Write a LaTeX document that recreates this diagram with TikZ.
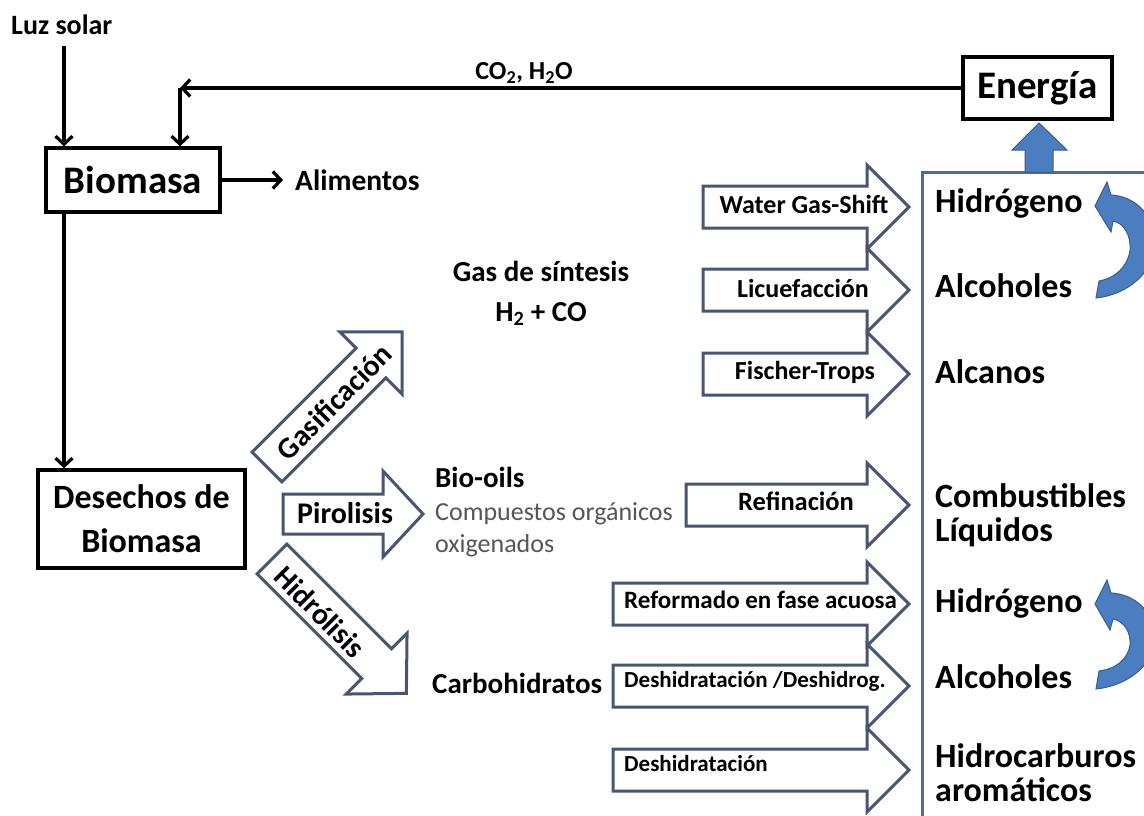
\documentclass[tikz,border=0pt]{standalone}
\usepackage{fontspec}
\setmainfont{Carlito}
\usetikzlibrary{arrows.meta}
\definecolor{arrline}{RGB}{72,86,114}
\definecolor{boxblue}{RGB}{72,108,163}
\definecolor{fillblue}{RGB}{74,126,193}
\definecolor{edgeblue}{RGB}{56,93,138}
\definecolor{graytxt}{RGB}{85,85,85}
\newcommand{\fs}[2]{\fontsize{#1pt}{#2pt}\selectfont}
\newcommand{\hblock}[2]{%
  \draw[blockarr] (#1,#2-21) -- (867,#2-21) -- (867,#2-42) -- (909,#2) -- (867,#2+42) -- (867,#2+21) -- (#1,#2+21) -- cycle;}
\begin{document}
\begin{tikzpicture}[x=1pt,y=-1pt,
  txt/.style={inner sep=0pt, font=\bfseries},
  bbox/.style={draw, line width=3.4pt, inner sep=0pt, font=\bfseries},
  conn/.style={line width=3.2pt, -{Straight Barb[length=8pt,width=17pt]}},
  blockarr/.style={draw=arrline, line width=3pt, fill=white, line join=miter},
  bluearr/.style={fill=fillblue, draw=edgeblue, line width=1pt},
]
\useasboundingbox (0,0) rectangle (1144,816);
\begin{scope}
\clip (0,0) rectangle (1144,816);
% right column frame
\draw[boxblue, line width=3pt] (1170,172) -- (922,172) -- (922,840);
% up arrow to Energia
\draw[bluearr] (1025,172) -- (1025,150) -- (1012,150) -- (1039,123) -- (1067,150) -- (1053,150) -- (1053,172) -- cycle;
% curved arrows
\draw[bluearr] (1096,298) .. controls (1132,294) and (1156,268) .. (1155,241)
  .. controls (1154,214) and (1134,196) .. (1111,195) -- (1107,182) -- (1095,206)
  -- (1111,232) -- (1113,221) .. controls (1124,223) and (1131,235) .. (1130,250)
  .. controls (1128,266) and (1116,278) .. (1099,281) -- cycle;
\draw[bluearr] (1096,689) .. controls (1132,685) and (1156,661) .. (1155,636)
  .. controls (1154,611) and (1134,594) .. (1111,593) -- (1107,580) -- (1095,604)
  -- (1110,630) -- (1113,619) .. controls (1124,621) and (1131,632) .. (1130,645)
  .. controls (1128,659) and (1116,669) .. (1099,671) -- cycle;
% block arrows
\hblock{703}{207}
\hblock{703}{290}
\hblock{703}{374}
\hblock{686}{505}
\hblock{613}{604}
\hblock{613}{686}
\hblock{613}{770}
\draw[blockarr] (283,494) -- (383,494) -- (383,471) -- (423,514) -- (383,557) -- (383,534) -- (283,534) -- cycle;
\begin{scope}[shift={(267,467)}, rotate=45]
  \draw[blockarr] (0,-21) -- (147,-21) -- (147,-44) -- (191,0) -- (147,44) -- (147,21) -- (0,21) -- cycle;
\end{scope}
\begin{scope}[shift={(272,559)}, rotate=-45]
  \draw[blockarr] (0,-21) -- (148,-21) -- (148,-43) -- (190,0) -- (148,43) -- (148,21) -- (0,21) -- cycle;
\end{scope}
\end{scope}

% boxes
\node[bbox, minimum width=174pt, minimum height=64pt, font=\bfseries\fs{39}{44}] (bio) at (133,180) {Biomasa};
\node[bbox, minimum width=207pt, minimum height=98pt, align=center, font=\bfseries\fs{34}{44}] (des) at (141.5,519) {Desechos de\\Biomasa};
\node[bbox, minimum width=149pt, minimum height=62pt, font=\bfseries\fs{39}{44}] (ener) at (1037.5,88) {Energía};

% texts
\node[txt, anchor=base west, font=\bfseries\fs{28}{32}] (luz) at (11,35) {Luz solar};
\node[txt, anchor=base, font=\bfseries\fs{26}{30}] (co2) at (524,80) {CO\textsubscript{2}, H\textsubscript{2}O};
\node[txt, anchor=base west, font=\bfseries\fs{29.5}{34}] (alim) at (295,190) {Alimentos};
\node[txt, anchor=base, font=\bfseries\fs{29}{34}] (gas1) at (541,281) {Gas de síntesis};
\node[txt, anchor=base, font=\bfseries\fs{29}{34}] (gas2) at (541,321) {H\textsubscript{2} + CO};
\node[txt, anchor=base west, font=\bfseries\fs{29}{34}] (bioil) at (435,487) {Bio-oils};
\node[txt, anchor=base west, font=\fs{26}{30}, text=graytxt] (comp1) at (435,520) {Compuestos orgánicos};
\node[txt, anchor=base west, font=\fs{26}{30}, text=graytxt] (comp2) at (435,552) {oxigenados};
\node[txt, anchor=base west, font=\bfseries\fs{29}{34}] (carb) at (432,693) {Carbohidratos};

% process labels
\node[txt, anchor=base west, font=\bfseries\fs{30}{34}] (piro) at (297,523) {Pirolisis};
\node[txt, rotate=45, font=\bfseries\fs{30}{34}] (gasif) at (334,402) {Gasificación};
\node[txt, rotate=-45, font=\bfseries\fs{30}{34}] (hidro) at (320,612) {Hidrólisis};
\node[txt, anchor=base, font=\bfseries\fs{26}{30}] (wgs) at (804,213) {Water Gas-Shift};
\node[txt, anchor=base, font=\bfseries\fs{26}{30}] (lic) at (803,297) {Licuefacción};
\node[txt, anchor=base, font=\bfseries\fs{26}{30}] (ft) at (805,379) {Fischer-Trops};
\node[txt, anchor=base, font=\bfseries\fs{26.5}{30}] (ref) at (796,510) {Refinación};
\node[txt, anchor=base west, font=\bfseries\fs{25}{28}] (refo) at (624,608) {Reformado en fase acuosa};
\node[txt, anchor=base west, font=\bfseries\fs{23}{26}] (desh1) at (624,687) {Deshidratación /Deshidrog.};
\node[txt, anchor=base west, font=\bfseries\fs{23}{26}] (desh2) at (624,771) {Deshidratación};

% products
\node[txt, anchor=base west, font=\bfseries\fs{34}{40}] (p1) at (935,212) {Hidrógeno};
\node[txt, anchor=base west, font=\bfseries\fs{34}{40}] (p2) at (935,297) {Alcoholes};
\node[txt, anchor=base west, font=\bfseries\fs{34}{40}] (p3) at (935,383) {Alcanos};
\node[txt, anchor=base west, font=\bfseries\fs{34}{40}] (p4a) at (935,507) {Combustibles};
\node[txt, anchor=base west, font=\bfseries\fs{34}{40}] (p4b) at (935,541) {Líquidos};
\node[txt, anchor=base west, font=\bfseries\fs{34}{40}] (p5) at (935,612) {Hidrógeno};
\node[txt, anchor=base west, font=\bfseries\fs{34}{40}] (p6) at (935,688) {Alcoholes};
\node[txt, anchor=base west, font=\bfseries\fs{34}{40}] (p7a) at (935,767) {Hidrocarburos};
\node[txt, anchor=base west, font=\bfseries\fs{34}{40}] (p7b) at (935,801) {aromáticos};

% connectors
\coordinate (lx) at (64,0);
\coordinate (cc) at (180,88);
\draw[conn, shorten <=11pt] (luz.south -| lx) -- (lx |- bio.north);
\draw[conn] (ener.west) -- (cc);
\draw[conn] (cc) -- (cc |- bio.north);
\draw[conn] (bio.east) -- ([xshift=-12pt]alim.west |- bio.east);
\draw[conn] (lx |- bio.south) -- (lx |- des.north);
\end{tikzpicture}
\end{document}
